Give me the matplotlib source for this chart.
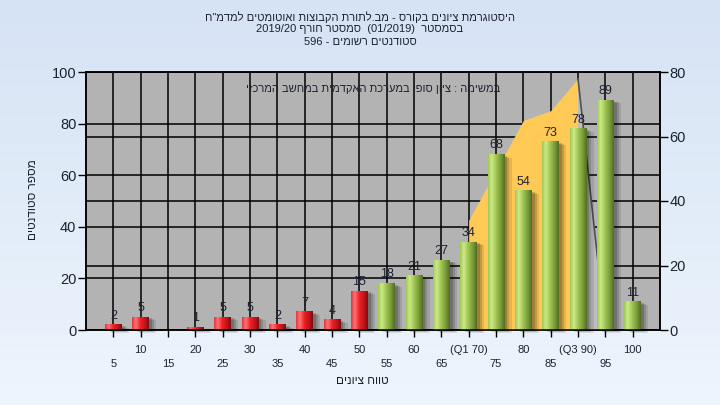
import re
import numpy as np
import matplotlib
matplotlib.use('Agg')
import matplotlib.pyplot as plt
from matplotlib.patches import Rectangle

plt.rcParams['font.family'] = ['Liberation Sans', 'DejaVu Sans']

# data
bins = [5, 10, 15, 20, 25, 30, 35, 40, 45, 50, 55, 60, 65, 70, 75, 80, 85, 90, 95, 100]
counts = [2, 5, 0, 1, 5, 5, 2, 7, 4, 15, 18, 21, 27, 34, 68, 54, 73, 78, 89, 11]
pass_from = 55
area_x = [70, 80, 85, 90]
area_y = [34, 65, 68, 78]   # right axis
drop_x = [90, 95]
drop_y = [78, 0]
q_labels = {70: '(Q1 70)', 90: '(Q3 90)'}

title_lines = ['היסטוגרמת ציונים בקורס - מב.לתורת הקבוצות ואוטומטים למדמ"ח',
               'בסמסטר  (01/2019)  סמסטר חורף 2019/20',
               'סטודנטים רשומים - 596']
note = 'במשימה : ציון סופי במערכת האקדמית במחשב המרכזי'
xlab = 'טווח ציונים'
ylab = 'מספר סטודנטים'


def rtl(s):
    # visual order for right-to-left text, keeping numbers left-to-right
    r = s[::-1]
    return re.sub(r'[0-9A-Za-z/().]+', lambda m: m.group(0)[::-1], r)


fig = plt.figure(figsize=(7.2, 4.05), dpi=100)

# background gradient
bg = fig.add_axes([0, 0, 1, 1], zorder=-5)
grad = np.linspace(0, 1, 256).reshape(-1, 1)
c_top = np.array([0.84, 0.89, 0.96])
c_bot = np.array([0.93, 0.96, 0.99])
bg.imshow(c_top + (c_bot - c_top) * grad[:, :, None], aspect='auto', extent=[0, 1, 0, 1])
bg.axis('off')

ax = fig.add_axes([86 / 720, 75 / 405, 574 / 720, 258 / 405])
ax2 = ax.twinx()
ax2.set_zorder(ax.get_zorder() - 1)
ax.patch.set_visible(False)
ax2.patch.set_visible(True)
ax2.patch.set_facecolor('#b3b3b3')

ax.set_xlim(0, 105)
ax.set_ylim(0, 100)
ax2.set_ylim(0, 80)

# grids
ax.set_axisbelow(True)
ax.grid(True, which='both', axis='both', color='black', lw=1.1)
ax2.grid(True, axis='y', color='black', lw=1.1)

# yellow area (right axis)
ax.fill_between(area_x, area_y, 0, color='#ffc955', lw=0, zorder=1,
                transform=ax2.transData)
ax.fill([drop_x[0], drop_x[1], drop_x[0]], [drop_y[0], drop_y[1], 0], color='#bdbdbd',
        lw=0, zorder=1, transform=ax2.transData)
ax.plot(drop_x, drop_y, color='#505050', lw=1.2, zorder=1.2, transform=ax2.transData)

# cylinder-like bars
w = 3.1
red_cols = np.array([[0.90, 0.20, 0.22], [1.0, 0.45, 0.47], [0.93, 0.12, 0.14],
                     [0.75, 0.08, 0.10], [0.48, 0.05, 0.06]])
green_cols = np.array([[0.62, 0.78, 0.34], [0.80, 0.92, 0.52], [0.62, 0.76, 0.32],
                       [0.46, 0.60, 0.22], [0.32, 0.42, 0.14]])
stops = np.array([0.0, 0.22, 0.5, 0.78, 1.0])
t = np.linspace(0, 1, 64)


def ramp(cols):
    return np.stack([np.interp(t, stops, cols[:, k]) for k in range(3)], axis=-1)[None, :, :]


red_img = ramp(red_cols)
green_img = ramp(green_cols)

for b, c in zip(bins, counts):
    if c == 0:
        continue
    for k, a in zip([1.3, 0.9, 0.5], [0.10, 0.14, 0.18]):
        ax.add_patch(Rectangle((b - w / 2 + k, -k * 0.9), w, c, color='black', alpha=a,
                               lw=0, zorder=1.5, clip_on=False))
    img = green_img if b >= pass_from else red_img
    ax.imshow(img, extent=[b - w / 2, b + w / 2, 0, c], aspect='auto', zorder=2,
              interpolation='bilinear')
    ax.text(b, c + 1.2, str(c), ha='center', va='bottom', fontsize=9, color='#1c2230',
            zorder=4)

ax.set_xlim(0, 105)
ax.set_ylim(0, 100)

# ticks
ax.set_xticks(range(10, 101, 10))
ax.set_xticklabels([q_labels.get(v, str(v)) for v in range(10, 101, 10)])
ax.set_xticks(range(5, 100, 10), minor=True)
ax.set_xticklabels([str(v) for v in range(5, 100, 10)], minor=True)
ax.tick_params(axis='x', which='major', length=5, width=1, pad=6, labelsize=8,
               labelcolor='#1c2230')
ax.tick_params(axis='x', which='minor', length=5, width=1, pad=16, labelsize=8,
               labelcolor='#1c2230')
ax.set_yticks(range(0, 101, 20))
ax.tick_params(axis='y', length=6, width=1, labelsize=10.5, labelcolor='#1c2230', pad=1)
ax2.set_yticks(range(0, 81, 20))
ax2.tick_params(axis='y', length=6, width=1, labelsize=10.5, labelcolor='#1c2230', pad=1)

for a in (ax, ax2):
    for s in a.spines.values():
        s.set_color('black')
        s.set_linewidth(1.1)

ax.text(0.5, 0.935, rtl(note), transform=ax.transAxes, ha='center', va='center',
        fontsize=8, color='#1c2230', zorder=5)

for i, line in enumerate(title_lines):
    fig.text(0.5, 1 - (17 + 12.5 * i) / 405, rtl(line), ha='center', va='center',
             fontsize=8, color='#1c2230')

fig.text(362 / 720, 1 - 381 / 405, rtl(xlab), ha='center', va='center', fontsize=8.5,
         color='#1c2230')
fig.text(33 / 720, 1 - 200 / 405, rtl(ylab), ha='center', va='center', fontsize=8.5,
         rotation=90, color='#1c2230')

fig.savefig('out.png', dpi=100)
